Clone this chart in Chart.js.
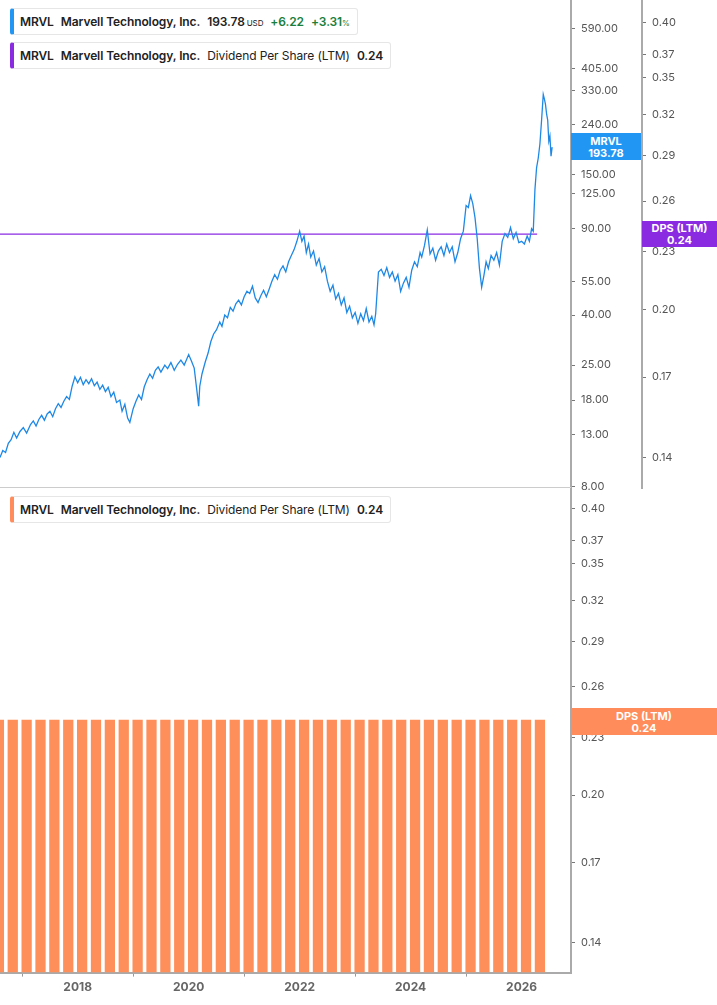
<!DOCTYPE html>
<html><head><meta charset="utf-8">
<script src="https://cdn.jsdelivr.net/npm/chart.js@4"></script>
<style>
body{margin:0;width:717px;height:1005px;position:relative;background:#fff;font-family:Inter,"Noto Sans",sans-serif;overflow:hidden}
.wrap{position:absolute;left:0}
.leg{position:absolute;left:10px;height:25px;line-height:25px;border:1px solid #e6e6e6;border-left:4px solid;border-radius:3px;padding:0 7px 0 6px;font-size:12px;color:#222;background:#fff;white-space:nowrap;letter-spacing:-0.1px}
.leg b{font-weight:600;margin-right:7px}
.tag{position:absolute;color:#fff;font-size:11px;font-weight:700;text-align:center;line-height:12px}
.sep{position:absolute;left:0;top:487px;width:571px;height:1px;background:#ccc}
</style></head><body>
<div class="wrap" style="top:-12px;width:717px;height:513px"><canvas id="top"></canvas></div>
<div class="wrap" style="top:476px;width:717px;height:523px"><canvas id="bot"></canvas></div>
<div class="sep"></div>
<div class="leg" style="top:8px;border-left-color:#2196f3"><b>MRVL</b><b>Marvell Technology, Inc.</b><b style="margin-right:2px">193.78</b><span style="font-size:8px;margin-right:7px">USD</span><b style="color:#1a7f3c">+6.22</b><b style="color:#1a7f3c;margin:0">+3.31</b><span style="font-size:8px;color:#1a7f3c">%</span></div>
<div class="leg" style="top:42px;border-left-color:#8a2be2"><b>MRVL</b><b>Marvell Technology, Inc.</b><span style="margin-right:7px">Dividend Per Share (LTM)</span><b style="margin:0">0.24</b></div>
<div class="leg" style="top:496px;border-left-color:#ff8c5a"><b>MRVL</b><b>Marvell Technology, Inc.</b><span style="margin-right:7px">Dividend Per Share (LTM)</span><b style="margin:0">0.24</b></div>
<div class="tag" style="left:571px;top:133px;width:70px;height:27px;padding-top:2px;box-sizing:border-box;background:#2196f3">MRVL<br>193.78</div>
<div class="tag" style="left:642px;top:221px;width:75px;height:26px;padding-top:1px;box-sizing:border-box;background:#8a2be2">DPS (LTM)<br>0.24</div>
<div class="tag" style="left:571px;top:708px;width:146px;height:27px;padding-top:2px;box-sizing:border-box;background:#ff8c5a">DPS (LTM)<br>0.24</div>
<script>
const priceDates = [2016.6,2016.65,2016.7,2016.75,2016.8,2016.85,2016.9,2016.96,2017.02,2017.08,2017.15,2017.2,2017.25,2017.3,2017.35,2017.4,2017.45,2017.5,2017.55,2017.6,2017.65,2017.7,2017.75,2017.8,2017.85,2017.9,2017.95,2018.0,2018.05,2018.1,2018.15,2018.2,2018.25,2018.3,2018.35,2018.4,2018.45,2018.5,2018.55,2018.6,2018.65,2018.7,2018.76,2018.8,2018.85,2018.9,2018.94,2019.0,2019.05,2019.1,2019.15,2019.2,2019.25,2019.3,2019.35,2019.4,2019.45,2019.5,2019.57,2019.62,2019.68,2019.74,2019.8,2019.86,2019.92,2020.0,2020.05,2020.1,2020.15,2020.18,2020.2,2020.24,2020.3,2020.35,2020.4,2020.45,2020.5,2020.56,2020.6,2020.65,2020.7,2020.75,2020.8,2020.85,2020.9,2020.95,2021.0,2021.05,2021.1,2021.15,2021.2,2021.25,2021.3,2021.35,2021.4,2021.45,2021.5,2021.55,2021.6,2021.65,2021.7,2021.75,2021.8,2021.85,2021.9,2021.95,2022.0,2022.04,2022.08,2022.12,2022.16,2022.2,2022.25,2022.3,2022.35,2022.4,2022.45,2022.5,2022.55,2022.6,2022.65,2022.7,2022.75,2022.8,2022.85,2022.9,2022.95,2023.0,2023.05,2023.1,2023.15,2023.2,2023.25,2023.3,2023.34,2023.37,2023.42,2023.47,2023.52,2023.57,2023.62,2023.67,2023.72,2023.77,2023.82,2023.87,2023.92,2023.97,2024.02,2024.07,2024.12,2024.17,2024.2,2024.25,2024.3,2024.35,2024.4,2024.45,2024.5,2024.55,2024.6,2024.65,2024.7,2024.75,2024.8,2024.85,2024.9,2024.95,2025.0,2025.04,2025.08,2025.12,2025.16,2025.2,2025.24,2025.28,2025.32,2025.36,2025.4,2025.45,2025.5,2025.55,2025.6,2025.65,2025.7,2025.75,2025.8,2025.85,2025.9,2025.95,2026.0,2026.05,2026.1,2026.14,2026.18,2026.21,2026.24,2026.27,2026.3,2026.33,2026.36,2026.39,2026.41,2026.43,2026.45,2026.47,2026.49,2026.51,2026.53,2026.55];
const priceValues = [10.5,11.2,11.0,12.0,12.4,13.3,12.6,13.4,13.9,13.2,14.3,14.8,14.1,15.0,15.6,14.9,15.8,16.2,15.4,16.6,17.4,16.8,17.8,18.6,18.1,20.5,22.4,21.2,22.3,20.8,21.8,21.0,22.0,20.6,21.3,19.9,20.7,19.5,20.3,18.6,19.4,17.6,18.0,16.2,17.3,15.2,14.6,16.6,17.8,18.9,18.1,20.4,21.8,23.0,22.1,23.8,24.6,23.4,25.0,24.2,25.6,23.8,25.2,26.2,25.0,27.6,26.0,24.3,19.5,17.0,20.5,23.0,25.8,28.0,31.2,33.5,34.8,37.5,36.0,40.0,39.0,43.0,41.5,44.5,46.0,44.0,47.5,50.0,49.0,52.5,47.0,45.0,48.0,50.5,47.5,51.0,55.0,58.5,56.0,61.0,63.5,60.0,66.0,70.0,74.0,80.0,88.0,80.0,84.0,72.0,78.0,69.0,73.0,64.0,68.0,60.0,63.0,55.0,50.0,53.0,46.5,49.0,44.0,47.0,41.0,43.5,39.0,41.0,37.0,40.5,38.0,42.5,37.5,39.5,36.5,40.5,60.0,61.5,58.0,62.5,57.0,60.0,55.0,58.5,50.0,54.0,57.0,52.0,61.0,66.0,63.0,72.0,69.0,77.0,89.0,71.0,75.0,67.0,73.0,76.0,70.0,78.0,72.0,76.0,66.0,72.0,82.0,88.0,112.0,110.0,123.0,114.0,100.0,82.0,62.0,52.0,58.0,66.0,62.0,70.0,67.0,72.0,64.0,80.0,86.0,83.0,91.0,82.0,87.0,79.0,80.0,78.0,84.0,80.0,90.0,88.0,130.0,160.0,175.0,200.0,250.0,318.0,305.0,290.0,265.0,250.0,205.0,215.0,178.0,193.78];
const dpsLineDates = [2016.6,2026.28];
const dpsLineValues = [0.24,0.24];
const barDates = [2016.58,2016.83,2017.08,2017.33,2017.58,2017.83,2018.08,2018.33,2018.58,2018.83,2019.08,2019.33,2019.58,2019.83,2020.08,2020.33,2020.58,2020.83,2021.08,2021.33,2021.58,2021.83,2022.08,2022.33,2022.58,2022.83,2023.08,2023.33,2023.58,2023.83,2024.08,2024.33,2024.58,2024.83,2025.08,2025.33,2025.58,2025.83,2026.08,2026.33];
const barValue = 0.24;
const priceTicks = [590,405,330,240,150,125,90,55,40,25,18,13,8];
const dpsTicks = [0.40,0.37,0.35,0.32,0.29,0.26,0.23,0.20,0.17,0.14];
const yearTicks = [2018,2020,2022,2024,2026];

const X0 = 2016.6, X1 = 2026.89;
const tickFont = {family: 'Inter', size: 11};
const axisGrid = {drawOnChartArea: false, tickLength: 4, color: '#777'};
const axisBorder = {display: true, color: '#aaa', width: 2};
function fixTicks(list) { return s => { s.ticks = list.map(v => ({value: v})); }; }
function fixWidth(w) { return s => { s.width = w; }; }

new Chart(document.getElementById('top'), {
  type: 'line',
  data: {datasets: [
    {data: priceDates.map((d, i) => ({x: d, y: priceValues[i]})), yAxisID: 'y', borderColor: '#1e88e5', borderWidth: 1.3, pointRadius: 0, tension: 0},
    {data: dpsLineDates.map((d, i) => ({x: d, y: dpsLineValues[i]})), yAxisID: 'y2', borderColor: '#8a2be2', borderWidth: 1.3, pointRadius: 0}
  ]},
  options: {
    responsive: true, maintainAspectRatio: false, animation: false,
    layout: {padding: 0},
    plugins: {legend: {display: false}, tooltip: {enabled: false}},
    scales: {
      x: {type: 'linear', min: X0, max: X1, display: false},
      y: {type: 'logarithmic', position: 'right', min: 7.85, max: 768,
          afterBuildTicks: fixTicks(priceTicks), afterFit: fixWidth(71),
          grid: axisGrid, border: axisBorder,
          ticks: {font: tickFont, color: '#555', padding: 6, callback: v => Number(v).toFixed(2)}},
      y2: {type: 'logarithmic', position: 'right', min: 0.130, max: 0.4216,
          afterBuildTicks: fixTicks(dpsTicks), afterFit: fixWidth(75),
          grid: axisGrid, border: axisBorder,
          ticks: {font: tickFont, color: '#555', padding: 6, callback: v => Number(v).toFixed(2)}}
    }
  }
});

new Chart(document.getElementById('bot'), {
  type: 'bar',
  data: {datasets: [{
    data: barDates.map(d => ({x: d, y: [0.1302, barValue]})),
    backgroundColor: '#ff8f5a', barPercentage: 0.74, categoryPercentage: 1
  }]},
  options: {
    responsive: true, maintainAspectRatio: false, animation: false,
    layout: {padding: 0},
    plugins: {legend: {display: false}, tooltip: {enabled: false}},
    scales: {
      x: {type: 'linear', min: X0, max: X1, offset: false,
          afterBuildTicks: fixTicks(yearTicks),
          grid: {drawOnChartArea: false, tickLength: 4, color: '#999'}, border: axisBorder,
          ticks: {font: {family: 'Inter', size: 12, weight: 'bold'}, color: '#666', padding: 4, callback: v => String(v)}},
      y: {type: 'logarithmic', position: 'right', min: 0.1302, max: 0.4198,
          afterBuildTicks: fixTicks(dpsTicks), afterFit: fixWidth(146),
          grid: axisGrid, border: axisBorder,
          ticks: {font: tickFont, color: '#555', padding: 6, callback: v => Number(v).toFixed(2)}}
    }
  }
});
</script>
</body></html>
